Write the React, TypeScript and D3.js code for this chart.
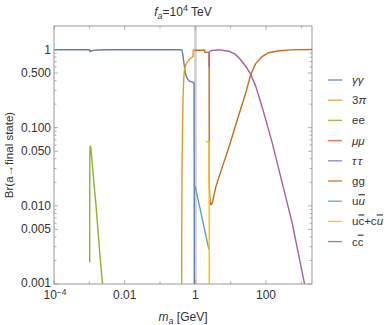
import React from "react";
import * as d3 from "d3";

const width = 390;
const height = 325;
const plot = { left: 54, right: 312, top: 26, bottom: 284 };

// [m_a in GeV, branching ratio]
const gammaGamma = [
  [1e-4, 0.995], [1.0e-3, 0.995], [1.022e-3, 0.99], [1.04e-3, 0.94], [1.1e-3, 0.95],
  [1.3e-3, 0.975], [1.8e-3, 0.988], [3e-3, 0.994], [0.4, 0.994], [0.415, 0.985],
  [0.44, 0.88], [0.47, 0.7], [0.5, 0.56], [0.53, 0.49], [0.57, 0.44], [0.62, 0.41],
  [0.68, 0.395], [0.84, 0.383], [0.92, 0.37], [0.94, 0.0005],
];
const threePi = [
  [0.41, 0.0005], [0.412, 0.003], [0.415, 0.01], [0.42, 0.03], [0.43, 0.08], [0.438, 0.13],
  [0.45, 0.25], [0.47, 0.42], [0.49, 0.55], [0.53, 0.63], [0.607, 0.7], [0.68, 0.75],
  [0.757, 0.78], [0.84, 0.81], [0.86, 0.82], [0.87, 0.98], [0.95, 0.98],
];
const ee = [
  [1.025e-3, 0.0019], [1.03e-3, 0.04], [1.05e-3, 0.058], [1.1e-3, 0.056], [1.2e-3, 0.036],
  [1.34e-3, 0.02], [1.55e-3, 0.01], [1.74e-3, 0.0051], [2.0e-3, 0.0023], [2.36e-3, 0.001],
  [2.5e-3, 0.0007],
];
const muMu: number[][] = [];
const tauTau: number[][] = [];
const gg = [
  [0.95, 0.98], [1.05, 0.98], [1.85, 0.98], [1.86, 0.92], [2.45, 0.92], [2.47, 0.02],
  [2.55, 0.013], [2.65, 0.011], [2.77, 0.0103], [3.0, 0.0108], [3.83, 0.0177], [5.87, 0.032],
  [9.08, 0.058], [17.3, 0.15], [26.8, 0.28], [37, 0.48], [51, 0.66], [79, 0.82],
  [120, 0.91], [232, 0.965], [500, 0.99], [2000, 1.0],
];
const uu = [[0.99, 0.0177], [1.5, 0.0075], [2.0, 0.0041], [2.4, 0.0028]];
const ucCu = [[1.95, 0.066], [2.46, 0.066], [2.47, 0.0005]];
const cc = [
  [2.46, 0.6], [2.47, 0.92], [2.8, 0.97], [4.7, 0.99], [9.08, 0.95], [13, 0.88],
  [17.3, 0.78], [26.8, 0.61], [37, 0.48], [51, 0.34], [79, 0.179], [150, 0.064],
  [288, 0.0195], [551, 0.006], [1230, 0.001], [1400, 0.0007],
];

const seriesData = [gammaGamma, threePi, ee, muMu, tauTau, gg, uu, ucCu, cc];
const colors = ["#5E81B5", "#E19C24", "#8FB032", "#EB6235", "#8778B3", "#C56E1A", "#5D9EC7", "#FFBF00", "#A5609D"];

const yMajor = [1, 0.5, 0.1, 0.05, 0.01, 0.005, 0.001];
const yLabels = ["1", "0.500", "0.100", "0.050", "0.010", "0.005", "0.001"];
const xMajor = [1e-4, 0.01, 1, 100];
const xMinor = [1e-3, 0.1, 10, 1000];

const font = "'Liberation Sans', Arial, sans-serif";

function legendLabel(i: number) {
  const ov = { textDecoration: "overline" } as React.CSSProperties;
  switch (i) {
    case 0: return <tspan fontStyle="italic">γγ</tspan>;
    case 1: return <>3<tspan fontStyle="italic">π</tspan></>;
    case 2: return <>ee</>;
    case 3: return <tspan fontStyle="italic">μμ</tspan>;
    case 4: return <tspan fontStyle="italic" letterSpacing={1.5}>ττ</tspan>;
    case 5: return <>gg</>;
    case 6: return <>u<tspan fontStyle="italic" style={ov}>u</tspan></>;
    case 7: return <>u<tspan style={ov}>c</tspan>+c<tspan fontStyle="italic" style={ov}>u</tspan></>;
    default: return <>c<tspan style={ov}>c</tspan></>;
  }
}

export default function App() {
  const x = d3.scaleLog().domain([1e-4, 2000]).range([plot.left, plot.right]);
  const y = d3.scaleLog().domain([0.001, 2]).range([plot.bottom, plot.top]);
  const line = d3.line<number[]>().x((d) => x(d[0])).y((d) => y(d[1]));

  const yMinor: number[] = [];
  [1e-3, 1e-2, 1e-1].forEach((p) => [2, 3, 4, 6, 7, 8, 9].forEach((k) => {
    const v = +(p * k).toPrecision(3);
    if (!yMajor.includes(v)) yMinor.push(v);
  }));

  const tick = "#b0b0b0";
  return (
    <svg width={width} height={height} style={{ position: "absolute", left: 0, top: 0 }} fontFamily={font}>
      <defs>
        <clipPath id="plotclip">
          <rect x={plot.left} y={plot.top} width={plot.right - plot.left} height={plot.bottom - plot.top} />
        </clipPath>
      </defs>
      <rect x={x(0.91)} y={plot.top} width={x(1.1) - x(0.91)} height={plot.bottom - plot.top} fill="#d2d2d2" />
      {/* ticks */}
      <g stroke={tick} strokeWidth={1}>
        {yMajor.map((v) => (
          <g key={"ym" + v}>
            <line x1={plot.left} x2={plot.left + 4} y1={y(v)} y2={y(v)} />
            <line x1={plot.right} x2={plot.right - 4} y1={y(v)} y2={y(v)} />
          </g>
        ))}
        {yMinor.map((v) => (
          <g key={"yn" + v}>
            <line x1={plot.left} x2={plot.left + 2.5} y1={y(v)} y2={y(v)} />
            <line x1={plot.right} x2={plot.right - 2.5} y1={y(v)} y2={y(v)} />
          </g>
        ))}
        {xMajor.map((v) => (
          <g key={"xm" + v}>
            <line x1={x(v)} x2={x(v)} y1={plot.bottom} y2={plot.bottom - 4} />
            <line x1={x(v)} x2={x(v)} y1={plot.top} y2={plot.top + 4} />
          </g>
        ))}
        {xMinor.map((v) => (
          <g key={"xn" + v}>
            <line x1={x(v)} x2={x(v)} y1={plot.bottom} y2={plot.bottom - 2.5} />
            <line x1={x(v)} x2={x(v)} y1={plot.top} y2={plot.top + 2.5} />
          </g>
        ))}
      </g>
      <g clipPath="url(#plotclip)" fill="none" strokeWidth={1.4} strokeLinejoin="round">
        {seriesData.map((s, i) =>
          s.length ? <path key={i} d={line(s) || ""} stroke={colors[i]} /> : null
        )}
      </g>
      <rect x={plot.left} y={plot.top} width={plot.right - plot.left} height={plot.bottom - plot.top}
        fill="none" stroke="#999" strokeWidth={1} />
      {/* tick labels */}
      <g fontSize={12} fill="#333" textAnchor="end">
        {yMajor.map((v, i) => (
          <text key={v} x={plot.left - 3} y={y(v) + (v === 0.001 ? 2.5 : 4)}>{yLabels[i]}</text>
        ))}
      </g>
      <g fontSize={12} fill="#333" textAnchor="middle">
        {xMajor.map((v) => (
          <text key={v} x={x(v) + (v === 1e-4 ? 1 : 0)} y={299}>
            {v === 1e-4 ? <>10<tspan dy={-4} fontSize={8.5}>−4</tspan></> : d3.format("~g")(v)}
          </text>
        ))}
      </g>
      {/* axis labels */}
      <text x={(plot.left + plot.right) / 2} y={321} fontSize={12} fill="#333" textAnchor="middle">
        <tspan fontStyle="italic">m</tspan><tspan fontStyle="italic" fontSize={9} dy={3}>a</tspan>
        <tspan dy={-3}> [GeV]</tspan>
      </text>
      <text transform={`translate(13,${(plot.top + plot.bottom) / 2}) rotate(-90)`} fontSize={11.5}
        fill="#333" textAnchor="middle">Br(a→final state)</text>
      <text x={(plot.left + plot.right) / 2} y={16} fontSize={12} fill="#333" textAnchor="middle">
        <tspan fontStyle="italic">f</tspan><tspan fontStyle="italic" fontSize={9} dy={3}>a</tspan>
        <tspan dy={-3}>=10</tspan><tspan fontSize={9} dy={-5}>4</tspan><tspan dy={5}> TeV</tspan>
      </text>
      {/* legend */}
      <g fontSize={11.5} fill="#333">
        {colors.map((c, i) => {
          const ly = 80 + i * 20.2;
          return (
            <g key={i}>
              <line x1={328} x2={342} y1={ly} y2={ly} stroke={c} strokeWidth={1.4} opacity={0.85} />
              <text x={352} y={ly + 4}>{legendLabel(i)}</text>
            </g>
          );
        })}
      </g>
    </svg>
  );
}
